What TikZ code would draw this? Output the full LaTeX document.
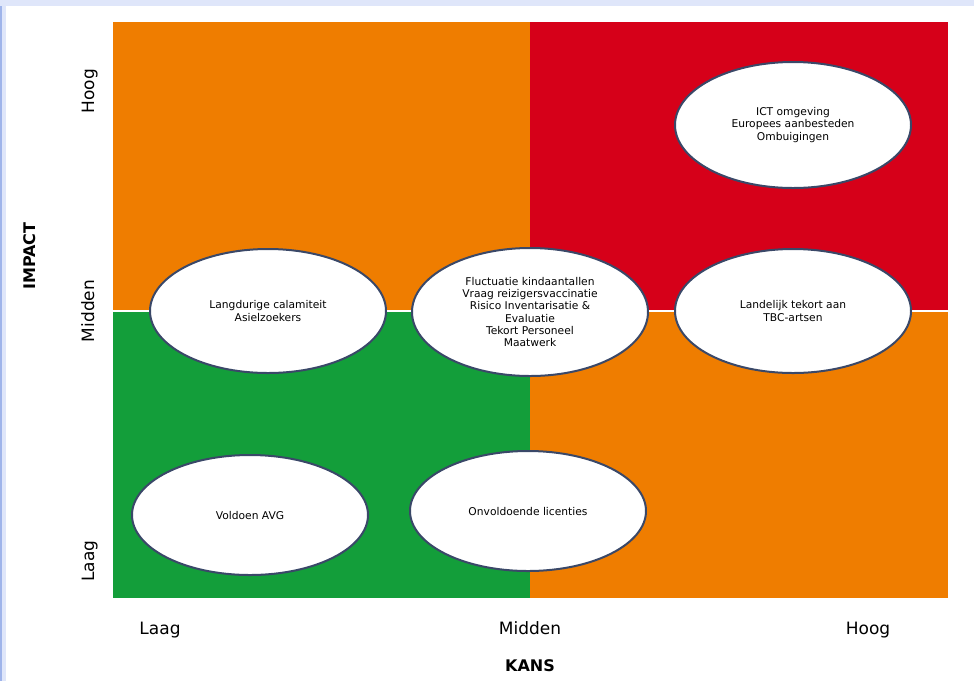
\documentclass[tikz,border=0pt]{standalone}
\usepackage{fontspec}
\setmainfont{DejaVu Sans}
\usetikzlibrary{shapes.geometric}
\definecolor{bgblue}{HTML}{DFE6FA}
\definecolor{edgeblue}{HTML}{9FB4EA}
\definecolor{qorange}{HTML}{EF7D00}
\definecolor{qred}{HTML}{D60019}
\definecolor{qgreen}{HTML}{139E3A}
\definecolor{ellline}{HTML}{3A4868}
\begin{document}
\begin{tikzpicture}[x=1pt,y=-1pt,
  riskbubble/.style={ellipse, draw=ellline, line width=2pt, fill=white, align=center,
     minimum width=#1, inner sep=0pt, font=\fontsize{10.7}{12.2}\selectfont},
  riskbubble/.default=236pt,
  axislabel/.style={anchor=base, font=\fontsize{17}{20}\selectfont},
  axistitle/.style={anchor=base, font=\fontsize{16}{19}\selectfont\bfseries}]
\useasboundingbox (0,0) rectangle (974,681);
% background
\fill[bgblue] (0,0) rectangle (974,681);
\draw[edgeblue, line width=1.5pt] (1,6) -- (1,681);
\fill[white] (6,6) rectangle (974,681);
% quadrants
\fill[qorange] (113,22) rectangle (530,311);
\fill[qred] (530,22) rectangle (948,311);
\fill[qgreen] (113,311) rectangle (530,598);
\fill[qorange] (530,311) rectangle (948,598);
\draw[white, line width=2.5pt] (113,311) -- (948,311);
% bubbles
\node[riskbubble, minimum height=126pt] (ict) at (793,125) {ICT omgeving\\Europees aanbesteden\\Ombuigingen};
\node[riskbubble, minimum height=124pt] (lang) at (268,311) {Langdurige calamiteit\\Asielzoekers};
\node[riskbubble, minimum height=128pt] (fluc) at (530,312) {Fluctuatie kindaantallen\\Vraag reizigersvaccinatie\\Risico Inventarisatie \&\\Evaluatie\\Tekort Personeel\\Maatwerk};
\node[riskbubble, minimum height=124pt] (tbc) at (793,311) {Landelijk tekort aan\\TBC-artsen};
\node[riskbubble, minimum height=120pt] (avg) at (250,515) {Voldoen AVG};
\node[riskbubble, minimum height=120pt] (lic) at (528,511) {Onvoldoende licenties};
% axis labels
\node[axislabel, rotate=90] (ihoog) at (94,91) {Hoog};
\node[axislabel, rotate=90] (imid) at (94,311) {Midden};
\node[axislabel, rotate=90] (ilaag) at (94,561) {Laag};
\node[axistitle, rotate=90] (impact) at (35,256) {IMPACT};
\node[axislabel] (klaag) at (160,634) {Laag};
\node[axislabel] (kmid) at (530,634) {Midden};
\node[axislabel] (khoog) at (868,634) {Hoog};
\node[axistitle] (kans) at (530,671) {KANS};
\end{tikzpicture}
\end{document}
